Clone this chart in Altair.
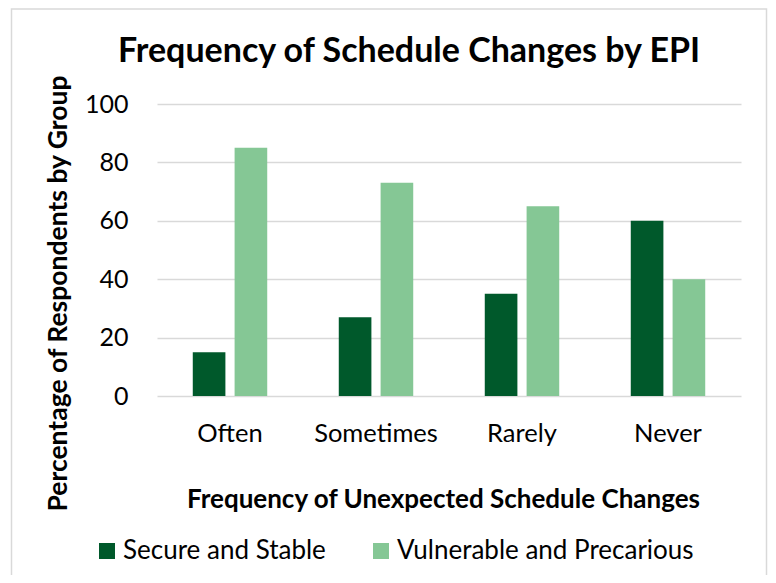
import altair as alt
import pandas as pd

categories = ["Often", "Sometimes", "Rarely", "Never"]
groups = ["Secure and Stable", "Vulnerable and Precarious"]
secure = [15, 27, 35, 60]
vulnerable = [85, 73, 65, 40]
colors = ["#00592B", "#85C795"]
y_ticks = [0, 20, 40, 60, 80, 100]

rows = []
for c, s, v in zip(categories, secure, vulnerable):
    rows.append({"cat": c, "group": groups[0], "value": s})
    rows.append({"cat": c, "group": groups[1], "value": v})
df = pd.DataFrame(rows)

FONT = "Lato"

frame = alt.Chart(pd.DataFrame({"k": [0]})).mark_rect(
    fill="transparent", stroke="#D9D9D9", strokeWidth=1.5
).encode(
    x=alt.value(-145.5), x2=alt.value(609.5), y=alt.value(-95), y2=alt.value(600)
)

bars = alt.Chart(df).mark_bar().encode(
    x=alt.X(
        "cat:N", sort=categories,
        scale=alt.Scale(paddingInner=0.49, paddingOuter=0.245),
        axis=alt.Axis(
            title="Frequency of Unexpected Schedule Changes", labelAngle=0,
            domain=False, ticks=False, tickSize=0, labelPadding=37,
            labelBaseline="middle", labelFont=FONT, labelFontSize=25.5,
            labelColor="#000000", titleFont=FONT, titleFontSize=26,
            titleFontWeight="bold", titleColor="#000000",
            titleX=286, titleY=103, titleBaseline="middle", titleAnchor="middle",
        ),
    ),
    xOffset=alt.XOffset("group:N", sort=groups, scale=alt.Scale(paddingInner=0.22)),
    y=alt.Y(
        "value:Q", scale=alt.Scale(domain=[0, 100]),
        axis=alt.Axis(
            title="Percentage of Respondents by Group", values=y_ticks,
            domain=False, ticks=False, tickSize=0, labelPadding=29,
            labelFont=FONT, labelFontSize=25, labelColor="#000000",
            gridColor="#D9D9D9", gridWidth=1.5,
            titleFont=FONT, titleFontSize=26.5, titleFontWeight="bold",
            titleColor="#000000", titleX=-99, titleY=189,
            titleBaseline="middle", titleAnchor="middle",
        ),
    ),
    color=alt.Color(
        "group:N", sort=groups,
        scale=alt.Scale(domain=groups, range=colors),
        legend=alt.Legend(
            title=None, orient="none", direction="horizontal",
            legendX=-63, legendY=434, symbolType="square", symbolSize=256,
            symbolStrokeWidth=0, labelFont=FONT, labelFontSize=26,
            labelColor="#000000", columnPadding=42, labelOffset=3,
            labelLimit=0,
        ),
    ),
)

chart = alt.layer(frame, bars).properties(
    width=584, height=292,
    title=alt.TitleParams(
        "Frequency of Schedule Changes by EPI", font=FONT, fontSize=34,
        fontWeight="bold", color="#000000", anchor="middle", frame="group",
        dx=-40, dy=129, baseline="alphabetic", offset=41,
    ),
    autosize=alt.AutoSizeParams(type="none"),
    padding={"left": 149, "top": 96, "right": 27, "bottom": 179},
).configure_view(stroke=None)

chart.save("out.html", embed_options={"renderer": "svg", "actions": False})
